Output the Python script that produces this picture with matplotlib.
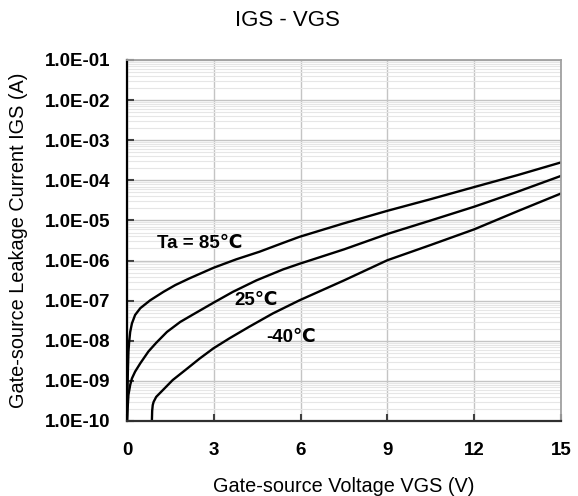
import matplotlib
matplotlib.use("Agg")
import matplotlib.pyplot as plt
from matplotlib.ticker import LogLocator, NullFormatter

plt.rcParams['font.family'] = ['Liberation Sans', 'DejaVu Sans']

# gate-source voltage (V) and leakage current (A) for each temperature
vgs_85 = [0.0, 0.01, 0.03, 0.05, 0.075, 0.11, 0.17, 0.28, 0.46, 0.80, 1.26,
          1.67, 2.16, 2.99, 3.77, 4.58, 5.39, 5.96, 7.5, 9.0, 10.5, 12.0,
          13.5, 15.0]
igs_85 = [1.0e-10, 3.0e-10, 1.7e-9, 5.4e-9, 9.5e-9, 1.66e-8, 2.7e-8, 4.4e-8,
          6.5e-8, 1.02e-7, 1.66e-7, 2.45e-7, 3.6e-7, 6.6e-7, 1.07e-6, 1.66e-6,
          2.75e-6, 3.9e-6, 8.5e-6, 1.74e-5, 3.4e-5, 6.8e-5, 1.35e-4, 2.8e-4]

vgs_25 = [0.0, 0.02, 0.05, 0.11, 0.17, 0.28, 0.46, 0.74, 1.01, 1.38, 1.84,
          2.30, 2.99, 3.66, 4.47, 5.39, 5.96, 7.5, 9.0, 10.5, 12.0, 13.5, 15.0]
igs_25 = [1.0e-10, 2.0e-10, 4.5e-10, 7.9e-10, 1.15e-9, 1.7e-9, 2.75e-9,
          5.4e-9, 8.9e-9, 1.66e-8, 2.95e-8, 4.6e-8, 8.9e-8, 1.66e-7, 3.2e-7,
          6.0e-7, 8.3e-7, 1.9e-6, 4.6e-6, 1.0e-5, 2.2e-5, 5.2e-5, 1.29e-4]

vgs_m40 = [0.86, 0.87, 0.89, 0.92, 1.01, 1.24, 1.58, 2.05, 2.51, 2.99, 3.54,
           4.23, 5.04, 5.96, 7.5, 9.0, 10.5, 12.0, 13.5, 15.0]
igs_m40 = [1.0e-10, 1.8e-10, 2.5e-10, 3.0e-10, 4.0e-10, 5.9e-10, 1.05e-9,
           1.95e-9, 3.6e-9, 6.5e-9, 1.15e-8, 2.25e-8, 4.8e-8, 1.02e-7,
           3.2e-7, 1.02e-6, 2.45e-6, 6.0e-6, 1.7e-5, 4.7e-5]

x_ticks = [0, 3, 6, 9, 12, 15]
y_ticks = [1e-10, 1e-9, 1e-8, 1e-7, 1e-6, 1e-5, 1e-4, 1e-3, 1e-2, 1e-1]
y_tick_labels = ['1.0E-10', '1.0E-09', '1.0E-08', '1.0E-07', '1.0E-06',
                 '1.0E-05', '1.0E-04', '1.0E-03', '1.0E-02', '1.0E-01']

fig = plt.figure(figsize=(5.78, 4.96), dpi=100)
ax = fig.add_axes([127 / 578, 1 - 421 / 496, (561 - 127) / 578, (421 - 60) / 496])

ax.set_yscale('log')
ax.set_xlim(0, 15)
ax.set_ylim(1e-10, 1e-1)

# grid: decades and voltage steps darker, in-between decades lighter
ax.yaxis.set_minor_locator(LogLocator(base=10, subs=range(2, 10), numticks=20))
ax.yaxis.set_minor_formatter(NullFormatter())
ax.grid(True, which='major', axis='both', color='#c4c4c4', linewidth=1.0)
ax.grid(True, which='minor', axis='y', color='#e6e6e6', linewidth=0.8)
ax.set_axisbelow(True)

for v, i in ((vgs_85, igs_85), (vgs_25, igs_25), (vgs_m40, igs_m40)):
    ax.plot(v, i, color='black', linewidth=1.7, solid_joinstyle='round')

ax.set_xticks(x_ticks)
ax.set_xticklabels([str(t) for t in x_ticks])
ax.set_yticks(y_ticks)
ax.set_yticklabels(y_tick_labels)

ax.tick_params(axis='both', which='major', direction='in', length=5,
               width=1.5, color='#404040', labelsize=13.5, pad=12)
ax.tick_params(axis='x', pad=15)
ax.tick_params(axis='y', which='minor', length=0)
for lbl in ax.get_xticklabels() + ax.get_yticklabels():
    lbl.set_fontweight('bold')

ax.spines['left'].set_color('black')
ax.spines['left'].set_linewidth(1.6)
ax.spines['bottom'].set_color('#303030')
ax.spines['bottom'].set_linewidth(1.6)
for side in ('top', 'right'):
    ax.spines[side].set_color('#a0a0a0')
    ax.spines[side].set_linewidth(1.3)

ax.text(1.02, 2.6e-6, 'Ta = 85\u2103', fontsize=13.5, fontweight='bold',
        ha='left', va='center')
ax.text(3.7, 1.0e-7, '25\u2103', fontsize=13.5, fontweight='bold',
        ha='left', va='center')
ax.text(4.8, 1.2e-8, '-40\u2103', fontsize=13.5, fontweight='bold',
        ha='left', va='center')

fig.text(0.497, 1 - 21 / 496, 'IGS - VGS', fontsize=16, ha='center', va='center')
ax.set_xlabel('Gate-source Voltage VGS (V)', fontsize=14.3, labelpad=13)
ax.set_ylabel('Gate-source Leakage Current IGS (A)', fontsize=14.3, labelpad=12)

fig.savefig('out.png', dpi=100)
